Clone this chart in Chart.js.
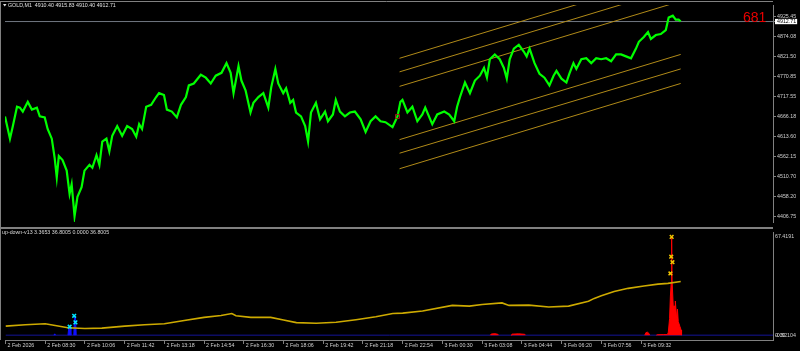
<!DOCTYPE html>
<html>
<head>
<meta charset="utf-8">
<script src="https://cdn.jsdelivr.net/npm/chart.js@4/dist/chart.umd.min.js"></script>
<style>
  html, body { margin: 0; padding: 0; background: #000; overflow: hidden; }
  canvas { position: absolute; left: 0; display: block; }
  #main { top: 0; }
  #sub { top: 227px; }
</style>
</head>
<body>
<canvas id="main" width="800" height="227"></canvas>
<canvas id="sub" width="800" height="124"></canvas>
<script>
// texts
const symbolText = 'GOLD,M1  4910.40 4915.83 4910.40 4912.71';
const indicatorText = 'up-down-v13 3.3653 36.8005 0.0000 36.8005';
const counterText = '681';

// x axis: bar index (M1 bars), labels every 96 bars
const xMin = 0;
const xMax = 1855;
const timeTickBars = [0, 96, 192, 288, 384, 480, 576, 672, 768, 864, 960, 1056, 1152, 1248, 1344, 1440, 1536];
const timeLabels = ['2 Feb 2026', '2 Feb 08:30', '2 Feb 10:06', '2 Feb 11:42', '2 Feb 13:18', '2 Feb 14:54',
  '2 Feb 16:30', '2 Feb 18:06', '2 Feb 19:42', '2 Feb 21:18', '2 Feb 22:54', '3 Feb 00:30',
  '3 Feb 03:08', '3 Feb 04:44', '3 Feb 06:20', '3 Feb 07:56', '3 Feb 09:32'];

// price panel
const bidPrice = 4912.71;
const priceTicks = [4925.45, 4912.71, 4874.08, 4821.50, 4770.85, 4717.55, 4666.18, 4613.60, 4562.15, 4510.70, 4458.20, 4406.75];

const priceBars = [
  0, 12, 19, 29, 36, 43, 55, 65, 77, 84,
  96, 103, 113, 120, 125, 130, 139, 149, 156, 161,
  168, 175, 185, 192, 204, 211, 221, 228, 235, 245,
  252, 259, 271, 283, 295, 307, 317, 324, 331, 341,
  353, 365, 372, 384, 391, 403, 415, 425, 437, 444,
  456, 473, 485, 497, 509, 523, 535, 545, 552, 564,
  571, 581, 593, 600, 612, 624, 636, 643, 653, 660,
  672, 679, 689, 696, 703, 715, 725, 732, 739, 751,
  761, 773, 780, 792, 799, 809, 821, 833, 845, 859,
  871, 883, 895, 907, 919, 936, 948, 955, 960, 972,
  984, 996, 1008, 1015, 1032, 1044, 1061, 1073, 1085, 1092,
  1099, 1111, 1123, 1135, 1147, 1157, 1164, 1171, 1183, 1195,
  1205, 1212, 1219, 1229, 1241, 1253, 1260, 1267, 1279, 1291,
  1303, 1315, 1325, 1332, 1344, 1356, 1363, 1373, 1380, 1392,
  1404, 1416, 1428, 1440, 1452, 1464, 1476, 1488, 1500, 1512,
  1524, 1531, 1543, 1553, 1560, 1572, 1584, 1596, 1603, 1613,
  1620, 1627, 1632
];
const priceClose = [
  4666.1, 4608.2, 4640.9, 4691.3, 4688.8, 4678.7, 4703.9, 4683.7, 4688.8, 4666.1,
  4663.6, 4633.4, 4608.2, 4557.8, 4507.5, 4562.9, 4552.8, 4525.1, 4464.7, 4489.8,
  4406.7, 4457.1, 4482.3, 4525.1, 4540.2, 4532.6, 4565.4, 4540.2, 4600.6, 4608.2,
  4575.4, 4615.7, 4640.9, 4615.7, 4640.9, 4633.4, 4613.2, 4646.0, 4633.4, 4691.3,
  4696.3, 4716.5, 4726.5, 4721.5, 4683.7, 4678.7, 4663.6, 4696.3, 4716.5, 4746.7,
  4751.7, 4774.4, 4766.8, 4751.7, 4771.9, 4779.4, 4804.6, 4779.4, 4726.5, 4797.0,
  4759.3, 4734.1, 4676.2, 4701.3, 4716.5, 4726.5, 4688.8, 4741.6, 4789.5, 4751.7,
  4726.5, 4739.1, 4701.3, 4708.9, 4676.2, 4666.1, 4640.9, 4600.6, 4676.2, 4701.3,
  4658.5, 4678.7, 4653.5, 4671.1, 4708.9, 4678.7, 4666.1, 4676.2, 4678.7, 4658.5,
  4625.8, 4653.5, 4666.1, 4653.5, 4651.0, 4638.4, 4666.1, 4703.9, 4708.9, 4676.2,
  4691.3, 4653.5, 4671.1, 4688.8, 4646.0, 4671.1, 4678.7, 4671.1, 4653.5, 4691.3,
  4716.5, 4754.2, 4726.5, 4759.3, 4771.9, 4792.0, 4766.8, 4814.7, 4827.2, 4814.7,
  4792.0, 4764.3, 4814.7, 4842.4, 4852.4, 4834.8, 4822.2, 4842.4, 4804.6, 4776.9,
  4766.8, 4746.7, 4771.9, 4784.4, 4764.3, 4754.2, 4776.9, 4804.6, 4789.5, 4814.7,
  4817.2, 4804.6, 4817.2, 4814.7, 4817.2, 4809.6, 4827.2, 4827.2, 4822.2, 4817.2,
  4842.4, 4860.0, 4872.6, 4885.2, 4867.5, 4877.6, 4880.1, 4890.2, 4922.9, 4928.0,
  4917.9, 4917.9, 4912.71
];

// channel lines drawn on the price panel
const channelBars = [953, 1632];
const channelStart = [4817.2, 4781.9, 4744.2, 4605.7, 4570.4, 4530.1];
const channelEnd = [5038.8, 5003.5, 4965.7, 4827.2, 4789.5, 4751.7];

// small arrow object on the price panel
const boxBars = [948];
const boxPrices = [4666.1];

// indicator panel
const subTicks = [67.4191, 0, -0.52104];
const subTickLabels = ['67.4191', '0.00', '-0.52104'];

const yellowBars = [0, 48, 96, 120, 151, 192, 233, 288, 336, 384, 432, 480, 521, 547, 557,
  593, 641, 672, 703, 751, 799, 847, 895, 936, 960, 1008, 1080, 1121, 1152, 1200,
  1217, 1265, 1313, 1361, 1409, 1423, 1440, 1471, 1505, 1543, 1577, 1601, 1632];
const yellowVals = [6.2, 7.1, 7.8, 6.6, 5.1, 4.6, 4.8, 6.2, 7.1, 7.8, 10.0, 12.2, 13.5, 14.8, 13.3,
  12.2, 12.2, 10.4, 8.6, 8.2, 8.8, 10.6, 12.6, 14.8, 15.1, 16.6, 20.4, 19.9, 21.0, 22.1,
  20.4, 20.6, 19.3, 19.9, 23.2, 25.2, 27.0, 29.9, 32.1, 33.7, 35.0, 35.5, 36.8];

const redBars = [1172, 1174, 1183, 1190, 1192, 1193, 1222, 1224, 1240, 1255, 1257, 1258,
  1545, 1548, 1552, 1555, 1557, 1558, 1573, 1575, 1590, 1600, 1602, 1605, 1607, 1609, 1610,
  1611, 1614, 1616, 1618, 1619, 1622, 1624, 1626, 1630, 1633, 1634];
const redVals = [0, 0.8, 1.0, 0.6, 0, null, 0, 0.7, 0.9, 0.6, 0, null,
  0, 1.8, 2.0, 1.2, 0, null, 0, 0.3, 0.4, 0.4, 2, 11.3, 26.8, 35.9, 67.4,
  37.8, 19.3, 20.1, 13.5, 23.4, 11.3, 17.9, 9.3, 6.0, 3.5, 0];

const blueBars = [117, 119, 121, 122, 151, 153, 156, 158, 159, 165, 167, 169, 171];
const blueVals = [0, 0.9, 0, null, 0, 5.5, 5.5, 0, null, 0, 12.6, 12.6, 0];

const cyanBars = [155, 166, 169];
const cyanVals = [5.8, 13.3, 8.8];
const goldBars = [1607, 1609, 1610, 1612];
const goldVals = [42.3, 53.8, 67.4, 50.0];

const frameColor = '#808080';
const labelColor = '#d0d0d0';
const tinyFont = { family: 'Liberation Sans', size: 5.3, lineHeight: 1 };

const pts = (xs, ys) => xs.map((x, i) => ({ x: x, y: ys[i] }));

const mainFrame = {
  id: 'mainFrame',
  afterDraw(chart) {
    const ctx = chart.ctx;
    const a = chart.chartArea;
    ctx.save();
    ctx.strokeStyle = frameColor;
    ctx.lineWidth = 1;
    ctx.beginPath();
    ctx.moveTo(0, 1.5); ctx.lineTo(a.right, 1.5);
    ctx.moveTo(0.5, 1); ctx.lineTo(0.5, chart.height);
    ctx.stroke();
    // little dropdown triangle before the symbol
    ctx.fillStyle = '#e0e0e0';
    ctx.beginPath();
    ctx.moveTo(3, 4); ctx.lineTo(6.5, 4); ctx.lineTo(4.75, 6.5);
    ctx.closePath();
    ctx.fill();
    ctx.font = '5.3px "Liberation Sans"';
    ctx.textBaseline = 'middle';
    ctx.fillText(symbolText, 8, 5.5);
    ctx.font = '14px "Liberation Sans"';
    ctx.fillStyle = '#e80000';
    ctx.fillText(counterText, 743, 18);
    ctx.restore();
  }
};

const subFrame = {
  id: 'subFrame',
  afterDraw(chart) {
    const ctx = chart.ctx;
    const a = chart.chartArea;
    ctx.save();
    ctx.fillStyle = frameColor;
    ctx.fillRect(0, 0, a.right, 2);
    ctx.fillRect(0, 0, 1, a.bottom);
    ctx.fillStyle = '#d8d8d8';
    ctx.font = '5.3px "Liberation Sans"';
    ctx.textBaseline = 'middle';
    ctx.fillText(indicatorText, 2, 5.5);
    ctx.restore();
  }
};

const channelSets = channelStart.map((p, i) => ({
  data: pts(channelBars, [p, channelEnd[i]]),
  borderColor: 'rgb(176,138,24)',
  borderWidth: 1
}));

new Chart(document.getElementById('main'), {
  type: 'line',
  data: {
    datasets: [
      {
        data: pts(boxBars, boxPrices),
        showLine: false,
        pointStyle: 'rect',
        pointRadius: 2.8,
        borderColor: '#a01818',
        backgroundColor: 'rgba(0,0,0,0)',
        borderWidth: 1
      },
      {
        data: pts(priceBars, priceClose),
        borderColor: '#00ff00',
        borderWidth: 2.2
      },
      ...channelSets,
      {
        data: [{ x: xMin, y: bidPrice }, { x: xMax, y: bidPrice }],
        borderColor: 'rgb(112,118,128)',
        borderWidth: 1
      }
    ]
  },
  options: {
    responsive: false,
    animation: false,
    events: [],
    elements: { point: { radius: 0 }, line: { tension: 0 } },
    layout: { padding: { top: 2, bottom: 1, left: 0, right: 0 } },
    plugins: { legend: { display: false }, tooltip: { enabled: false } },
    scales: {
      x: { type: 'linear', min: xMin, max: xMax, display: false },
      y: {
        position: 'right',
        min: 4391.6,
        max: 4955.7,
        afterBuildTicks: s => { s.ticks = priceTicks.map(v => ({ value: v })); },
        afterFit: s => { s.width = 27; s.paddingTop = 0; s.paddingBottom = 0; },
        ticks: {
          autoSkip: false,
          padding: 1,
          font: tinyFont,
          color: c => (c.tick && c.tick.value === bidPrice ? '#000' : labelColor),
          showLabelBackdrop: c => !!(c.tick && c.tick.value === bidPrice),
          backdropColor: '#ffffff',
          backdropPadding: { top: 0, bottom: 0, left: 2, right: 1 },
          callback: v => v.toFixed(2)
        },
        grid: { drawOnChartArea: false, drawTicks: true, tickLength: 3, color: frameColor },
        border: { display: true, color: frameColor }
      }
    }
  },
  plugins: [mainFrame]
});

new Chart(document.getElementById('sub'), {
  type: 'line',
  data: {
    datasets: [
      {
        data: pts(goldBars, goldVals),
        showLine: false,
        pointStyle: 'crossRot',
        pointRadius: 2.6,
        borderColor: '#f0c400',
        borderWidth: 1.5
      },
      {
        data: pts(cyanBars, cyanVals),
        showLine: false,
        pointStyle: 'crossRot',
        pointRadius: 2.6,
        borderColor: '#00e8ff',
        borderWidth: 1.5
      },
      {
        data: pts(yellowBars, yellowVals),
        borderColor: 'rgb(205,170,0)',
        borderWidth: 1.6
      },
      {
        data: pts(redBars, redVals),
        borderColor: '#ff0000',
        backgroundColor: '#ff0000',
        borderWidth: 1,
        fill: 'origin',
        spanGaps: false
      },
      {
        data: pts(blueBars, blueVals),
        borderColor: '#1010ff',
        backgroundColor: '#1010ff',
        borderWidth: 1,
        fill: 'origin',
        spanGaps: false
      },
      {
        data: [{ x: xMin, y: 0 }, { x: xMax, y: 0 }],
        borderColor: 'rgb(20,20,150)',
        borderWidth: 1
      }
    ]
  },
  options: {
    responsive: false,
    animation: false,
    events: [],
    elements: { point: { radius: 0 }, line: { tension: 0 } },
    layout: { padding: { top: 2, bottom: 0, left: 0, right: 0 } },
    plugins: { legend: { display: false }, tooltip: { enabled: false } },
    scales: {
      x: {
        type: 'linear',
        min: xMin,
        max: xMax,
        afterBuildTicks: s => { s.ticks = timeTickBars.map(v => ({ value: v })); },
        afterFit: s => { s.height = 11; s.paddingLeft = 0; s.paddingRight = 0; },
        ticks: {
          autoSkip: false,
          maxRotation: 0,
          minRotation: 0,
          align: 'start',
          labelOffset: 2,
          padding: -1.5,
          color: labelColor,
          font: tinyFont,
          callback: (v, i) => timeLabels[i]
        },
        grid: { drawOnChartArea: false, drawTicks: true, tickLength: 4, color: frameColor },
        border: { display: true, color: frameColor }
      },
      y: {
        position: 'right',
        min: -3.32,
        max: 70.38,
        afterBuildTicks: s => { s.ticks = subTicks.map(v => ({ value: v })); },
        afterFit: s => { s.width = 27; s.paddingTop = 0; s.paddingBottom = 0; },
        ticks: {
          autoSkip: false,
          padding: 2,
          font: tinyFont,
          color: labelColor,
          callback: (v, i) => subTickLabels[i]
        },
        grid: { drawOnChartArea: false, drawTicks: false },
        border: { display: true, color: frameColor }
      }
    }
  },
  plugins: [subFrame]
});
</script>
</body>
</html>
